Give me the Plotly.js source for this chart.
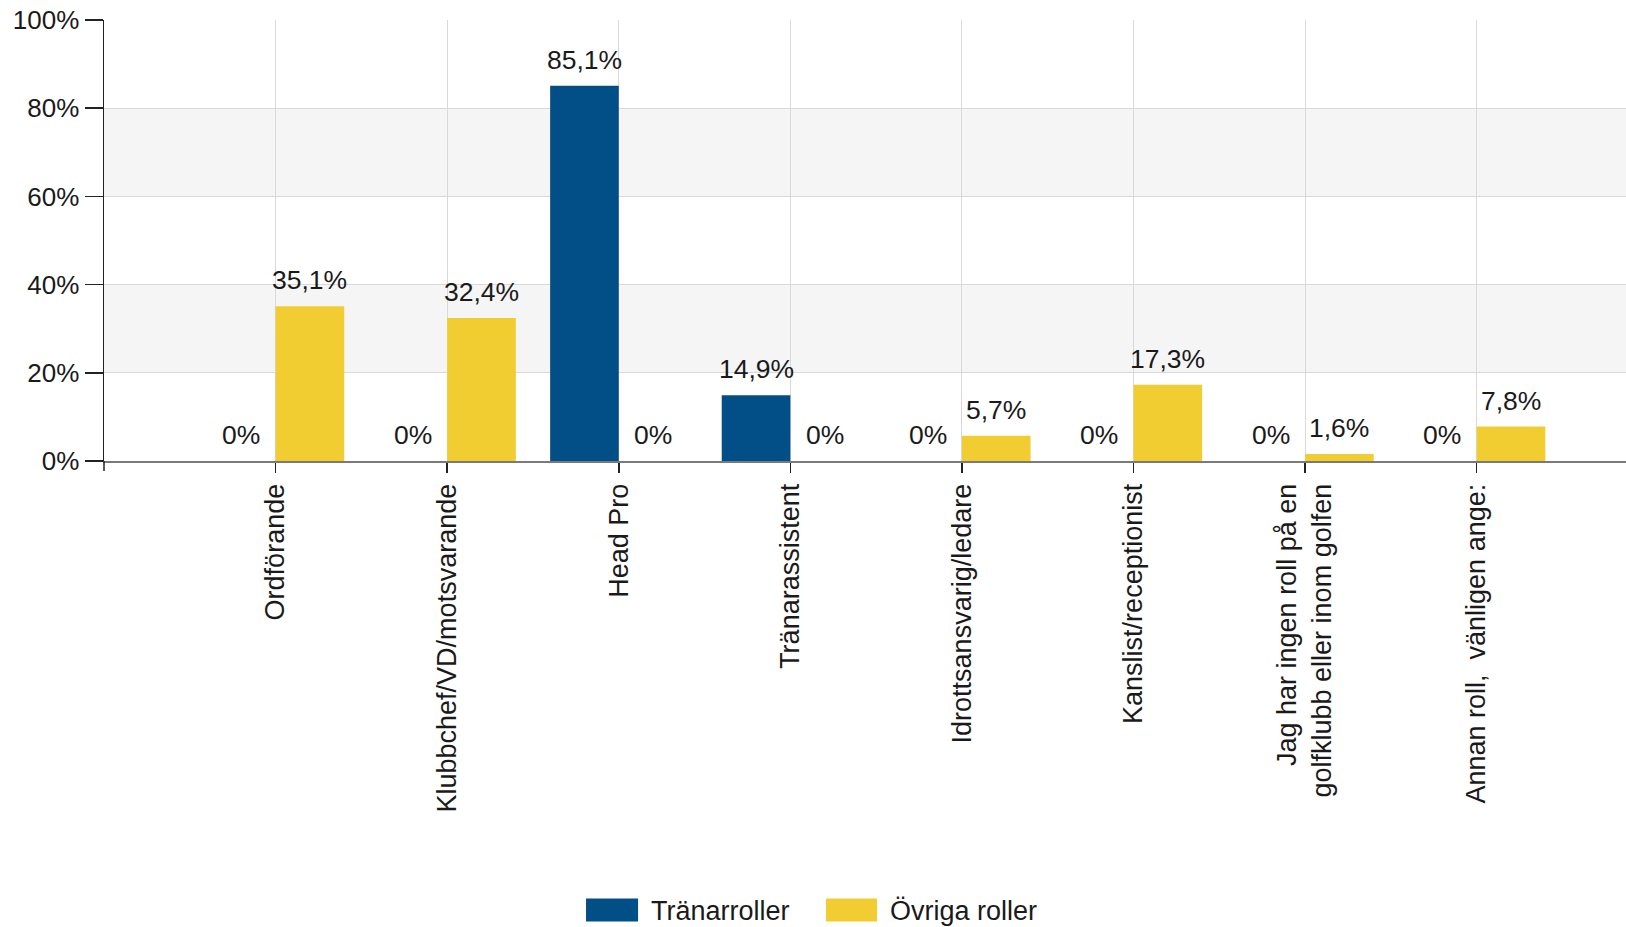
<!DOCTYPE html>
<html>
<head>
<meta charset="utf-8">
<script src="https://cdn.plot.ly/plotly-3.0.1.min.js"></script>
<style>
html,body{margin:0;padding:0;background:#fff;}
#chart{width:1626px;height:927px;}
</style>
</head>
<body>
<div id="chart"></div>
<script>
const categories = [
  "Ordförande",
  "Klubbchef/VD/motsvarande",
  "Head Pro",
  "Tränarassistent",
  "Idrottsansvarig/ledare",
  "Kanslist/receptionist",
  "Jag har ingen roll på en<br>golfklubb eller inom golfen",
  "Annan roll,  vänligen ange:"
];
const seriesNames = ["Tränarroller", "Övriga roller"];
const tranarroller = [0, 0, 85.1, 14.9, 0, 0, 0, 0];
const ovrigaRoller = [35.1, 32.4, 0, 0, 5.7, 17.3, 1.6, 7.8];
const colors = ["#024f87", "#f2cd31"];
const yTicks = [0, 20, 40, 60, 80, 100];

function fmt(v) {
  return v === 0 ? "0%" : v.toFixed(1).replace(".", ",") + "%";
}

const FONT = "Liberation Sans, Arial, sans-serif";
const TXT = "#1a1a1a";
const W = 1626, H = 927;
const M = {l: 104, r: 0, t: 19.5, b: 466};
const xRange = [-1, 7.87];
const catPx = (W - M.l - M.r) / (xRange[1] - xRange[0]);
const barFrac = 0.4;

function makeTrace(name, vals, color) {
  return {
    type: "bar",
    name: name,
    x: categories,
    y: vals,
    marker: {color: color},
    hoverinfo: "skip",
    showlegend: false
  };
}

const seriesVals = [tranarroller, ovrigaRoller];
const data = seriesVals.map((v, i) => makeTrace(seriesNames[i], v, colors[i]));

const annotations = [];
seriesVals.forEach((vals, s) => {
  const shift = (s === 0 ? -1 : 1) * barFrac / 2 * catPx;
  vals.forEach((v, i) => {
    annotations.push({
      xref: "x", yref: "y", x: categories[i], y: v,
      xshift: shift, yshift: 9,
      xanchor: "center", yanchor: "bottom",
      text: fmt(v), showarrow: false,
      font: {family: FONT, size: 26.5, color: TXT}
    });
  });
});

annotations.push(
  {xref: "paper", yref: "paper", x: 0.3581, y: -1.0193, xanchor: "left", yanchor: "middle", text: seriesNames[0], showarrow: false, font: {family: FONT, size: 27, color: TXT}},
  {xref: "paper", yref: "paper", x: 0.5151, y: -1.0193, xanchor: "left", yanchor: "middle", text: seriesNames[1], showarrow: false, font: {family: FONT, size: 27, color: TXT}}
);

const shapes = [
  {type: "rect", layer: "below", xref: "paper", yref: "y", x0: 0, x1: 1, y0: 20, y1: 40, fillcolor: "#f5f5f5", line: {width: 0}},
  {type: "rect", layer: "below", xref: "paper", yref: "y", x0: 0, x1: 1, y0: 60, y1: 80, fillcolor: "#f5f5f5", line: {width: 0}},
  {type: "line", xref: "paper", yref: "paper", x0: 0, x1: 0, y0: 0, y1: -0.0226, line: {color: "#222", width: 1.5}},
  {type: "rect", xref: "paper", yref: "paper", x0: 0.3167, x1: 0.3509, y0: -1.0442, y1: -0.9921, fillcolor: colors[0], line: {width: 0}},
  {type: "rect", xref: "paper", yref: "paper", x0: 0.4744, x1: 0.5079, y0: -1.0442, y1: -0.9921, fillcolor: colors[1], line: {width: 0}}
];

const layout = {
  width: W,
  height: H,
  margin: M,
  paper_bgcolor: "#ffffff",
  plot_bgcolor: "#ffffff",
  barmode: "group",
  bargap: 1 - 2 * barFrac,
  bargroupgap: 0,
  showlegend: false,
  font: {family: FONT, size: 26, color: TXT},
  xaxis: {
    type: "category",
    range: xRange,
    showgrid: true,
    gridcolor: "#d9d9d9",
    gridwidth: 1,
    showline: true,
    linecolor: "#7a7a7a",
    linewidth: 2,
    ticks: "outside",
    ticklen: 10,
    tickcolor: "#222",
    tickwidth: 1.5,
    tickangle: -90,
    tickfont: {family: FONT, size: 27, color: TXT},
    zeroline: false,
    fixedrange: true
  },
  yaxis: {
    range: [0, 100],
    tickvals: yTicks,
    ticktext: yTicks.map(v => v + "%"),
    showgrid: true,
    gridcolor: "#d9d9d9",
    gridwidth: 1,
    showline: true,
    linecolor: "#222",
    linewidth: 1.5,
    ticks: "outside",
    ticklen: 18,
    tickcolor: "#222",
    tickwidth: 1.5,
    tickfont: {family: FONT, size: 26, color: TXT},
    zeroline: false,
    fixedrange: true
  },
  shapes: shapes,
  annotations: annotations
};

Plotly.newPlot("chart", data, layout, {displayModeBar: false, staticPlot: true});
</script>
</body>
</html>
